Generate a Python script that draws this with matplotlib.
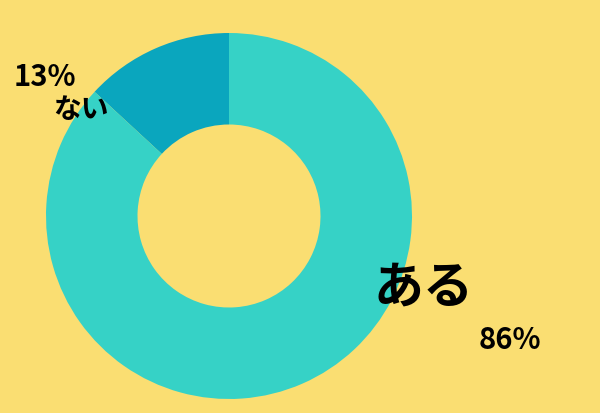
import matplotlib.pyplot as plt

plt.rcParams['font.family'] = ['Noto Sans CJK JP', 'DejaVu Sans']

# データ
labels = ["ない", "ある"]
values = [13, 86]
pct_labels = ["13%", "86%"]
colors = ["#0AA6BE", "#36D2C6"]
bg = "#FADE72"

fig = plt.figure(figsize=(6, 4.13), dpi=100)
fig.patch.set_facecolor(bg)

# 円の位置 (中心 229,216 px / 半径 183 px)
W, H = 600, 413
ax = fig.add_axes([46 / W, (H - 399) / H, 366 / W, 366 / H])
ax.set_facecolor(bg)
ax.pie(values, colors=colors, startangle=90, counterclock=True,
       radius=1, wedgeprops=dict(width=0.5, linewidth=0))
ax.set_xlim(-1, 1)
ax.set_ylim(-1, 1)
ax.set_aspect("equal")
ax.axis("off")

# ラベル
fig.text(45 / W, 1 - 77 / H, pct_labels[0], fontsize=21, fontweight="bold",
         ha="center", va="center")
fig.text(81 / W, 1 - 110 / H, labels[0], fontsize=20, fontweight="bold",
         ha="center", va="center")
fig.text(423 / W, 1 - 288 / H, labels[1], fontsize=36, fontweight="bold",
         ha="center", va="center")
fig.text(510 / W, 1 - 340 / H, pct_labels[1], fontsize=21, fontweight="bold",
         ha="center", va="center")

fig.savefig("out.png", dpi=100, facecolor=bg)
